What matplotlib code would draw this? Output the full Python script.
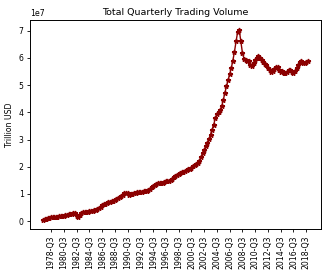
import matplotlib
matplotlib.use("Agg")
import matplotlib.pyplot as plt

# quarterly trading volume, in units of 1e7 (trillion USD axis w/ offset)
start_year, start_q = 1977, 2
volume = [
    0.05, 0.08, 0.10, 0.12, 0.13, 0.14, 0.15, 0.15, 0.16, 0.17,
    0.18, 0.19, 0.20, 0.21, 0.22, 0.24, 0.25, 0.26, 0.28, 0.30,
    0.32, 0.18, 0.16, 0.24, 0.32, 0.33, 0.34, 0.35, 0.35, 0.36,
    0.37, 0.38, 0.40, 0.43, 0.46, 0.50, 0.54, 0.58, 0.62, 0.65,
    0.67, 0.69, 0.71, 0.73, 0.75, 0.78, 0.82, 0.86, 0.90, 0.94,
    0.98, 1.02, 1.04, 1.03, 0.98, 0.99, 1.00, 1.02, 1.04, 1.06,
    1.07, 1.08, 1.09, 1.10, 1.10, 1.11, 1.15, 1.20, 1.26, 1.31,
    1.34, 1.37, 1.39, 1.40, 1.41, 1.42, 1.44, 1.46, 1.47, 1.49,
    1.52, 1.56, 1.61, 1.66, 1.71, 1.75, 1.78, 1.80, 1.82, 1.84,
    1.87, 1.90, 1.93, 1.97, 2.01, 2.05, 2.09, 2.13, 2.22, 2.35,
    2.50, 2.62, 2.75, 2.88, 3.02, 3.18, 3.36, 3.55, 3.78, 3.92,
    4.00, 4.08, 4.22, 4.45, 4.72, 4.95, 5.18, 5.40, 5.62, 5.90,
    6.22, 6.60, 6.95, 7.02, 6.60, 6.18, 5.95, 5.92, 5.90, 5.88,
    5.72, 5.70, 5.82, 5.92, 5.98, 6.05, 6.00, 5.92, 5.85, 5.78,
    5.72, 5.62, 5.55, 5.48, 5.50, 5.58, 5.65, 5.67, 5.55, 5.48,
    5.52, 5.45, 5.43, 5.48, 5.55, 5.55, 5.48, 5.43, 5.50, 5.62,
    5.75, 5.85, 5.88, 5.82, 5.80, 5.85, 5.88,
]

quarters = []
y, q = start_year, start_q
for _ in volume:
    quarters.append("%d-Q%d" % (y, q))
    q += 1
    if q > 4:
        q = 1
        y += 1

values = [v * 1e7 for v in volume]
x = list(range(len(values)))

fig = plt.figure(figsize=(3.32, 2.77), dpi=100)
ax = fig.add_axes([0.09, 0.172, 0.877, 0.754])
ax.plot(x, values, color="darkred", marker="*", markersize=3.5, linewidth=1.0)

tick_idx = [i for i, s in enumerate(quarters) if s.endswith("Q3") and int(s[:4]) % 2 == 0]
ax.set_xticks(tick_idx)
ax.set_xticklabels([quarters[i] for i in tick_idx], rotation=90, fontsize=5.6)
ax.tick_params(axis="both", labelsize=5.6, length=2.5, width=0.6, pad=2)
for sp in ax.spines.values():
    sp.set_linewidth(0.7)
ax.yaxis.get_offset_text().set_fontsize(5.6)
ax.set_ylabel("Trillion USD", fontsize=5.6, labelpad=3)
ax.set_title("Total Quarterly Trading Volume", fontsize=6.8, pad=4)

fig.savefig("out.png", dpi=100)
